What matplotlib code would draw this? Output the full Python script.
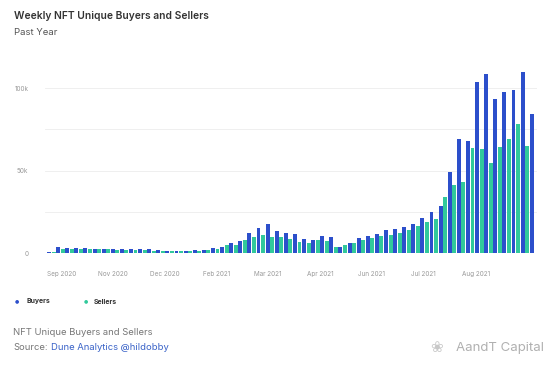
import numpy as np
import matplotlib
matplotlib.use("Agg")
import matplotlib.pyplot as plt

# Weekly unique buyers / sellers (thousands)
buyers = [0.8, 3.6, 3.0, 3.2, 3.2, 2.6, 2.8, 2.8, 2.4, 2.8, 2.8, 2.4, 1.8, 1.6,
          1.4, 1.2, 1.8, 2.0, 3.0, 3.6, 6.0, 7.6, 12.2, 15.3, 17.7, 13.3,
          12.2, 11.6, 8.8, 7.8, 10.6, 9.8, 4.0, 6.2, 9.2, 10.2, 11.8, 13.9,
          14.8, 15.8, 18.0, 21.4, 25.0, 28.9, 49.4, 69.3, 68.1, 103.6, 108.4,
          93.2, 97.4, 99.0, 110.0, 84.3]
sellers = [0.6, 2.6, 2.6, 2.6, 2.4, 2.4, 2.4, 2.2, 2.0, 2.0, 2.0, 1.6, 1.4, 1.2,
           1.2, 1.4, 1.6, 2.2, 2.8, 4.8, 5.0, 7.8, 10.0, 11.0, 9.8, 9.6,
           8.8, 7.0, 6.0, 7.8, 7.4, 3.8, 5.0, 6.4, 7.8, 9.3, 10.4, 11.3,
           12.4, 13.8, 16.7, 18.8, 20.6, 34.3, 41.6, 43.0, 63.7, 63.1, 54.8,
           64.3, 69.3, 78.3, 65.1, np.nan]
month_labels = ["Sep 2020", "Nov 2020", "Dec 2020", "Feb 2021", "Mar 2021",
                "Apr 2021", "Jun 2021", "Jul 2021", "Aug 2021"]
month_pos = [1.1, 6.8, 12.5, 18.2, 23.8, 29.5, 35.2, 40.8, 46.6]

BLUE = "#2c4fcb"
GREEN = "#31c99b"
FONT = "Inter"

fig = plt.figure(figsize=(5.54, 3.69), dpi=100)
W, H = 554, 369

def fx(px):
    return px / W

def fy(py):
    return 1 - py / H

ax = fig.add_axes([fx(45), fy(253.3), fx(537) - fx(45), fy(68.2) - fy(253.3)])

x = np.arange(len(buyers))
b = np.array(buyers) * 1000
s = np.array(sellers) * 1000
ax.bar(x - 0.25, b, 0.43, color=BLUE, zorder=3)
ax.bar(x + 0.25, s, 0.43, color=GREEN, zorder=3)

ax.set_xlim(-0.69, 53.33)
ax.set_ylim(0, 112000)
ax.set_yticks([0, 25000, 50000, 75000, 100000])
ax.set_yticklabels(["0", "", "50k", "", "100k"])
ax.set_xticks(month_pos)
ax.set_xticklabels(month_labels)
ax.tick_params(axis="y", length=0, pad=12, labelsize=4.6, labelcolor="#999999")
ax.tick_params(axis="x", length=0, pad=13, labelsize=4.6, labelcolor="#999999")
for lab in ax.get_xticklabels() + ax.get_yticklabels():
    lab.set_family(FONT)
ax.grid(axis="y", color="#ececec", linewidth=0.6, zorder=0)
for sp in ax.spines.values():
    sp.set_visible(False)

# title block
fig.text(fx(14), fy(16), "Weekly NFT Unique Buyers and Sellers", fontsize=7.4,
         fontweight="semibold", color="#333333", family=FONT, va="center")
fig.text(fx(14), fy(32.5), "Past Year", fontsize=6.9, color="#555555",
         family=FONT, va="center")

# legend
fig.text(fx(16.8), fy(301), "\u25cf", fontsize=3.5, color=BLUE, ha="center", va="center")
fig.text(fx(26.5), fy(301.5), "Buyers", fontsize=5.0, fontweight="bold",
         color="#333333", family=FONT, va="center")
fig.text(fx(85.6), fy(301), "\u25cf", fontsize=3.5, color=GREEN, ha="center", va="center")
fig.text(fx(93.6), fy(301.5), "Sellers", fontsize=5.0, fontweight="bold",
         color="#333333", family=FONT, va="center")

# footer
fig.text(fx(13), fy(332.5), "NFT Unique Buyers and Sellers", fontsize=6.8,
         color="#777777", family=FONT, va="center")
src = fig.text(fx(13), fy(347.5), "Source:", fontsize=6.8, color="#777777",
               family=FONT, va="center")
fig.text(fx(51), fy(347.5), "Dune Analytics @hildobby", fontsize=6.8,
         color="#3a63c8", family=FONT, va="center")

# watermark
fig.text(fx(456), fy(348), "AandT Capital", fontsize=9.5, color="#b0b0b0",
         family=FONT, va="center")
fig.text(fx(437), fy(348), "\u2740", fontsize=11, color="#c8c8c8",
         family="DejaVu Sans", ha="center", va="center")

fig.savefig("out.png", dpi=100)
